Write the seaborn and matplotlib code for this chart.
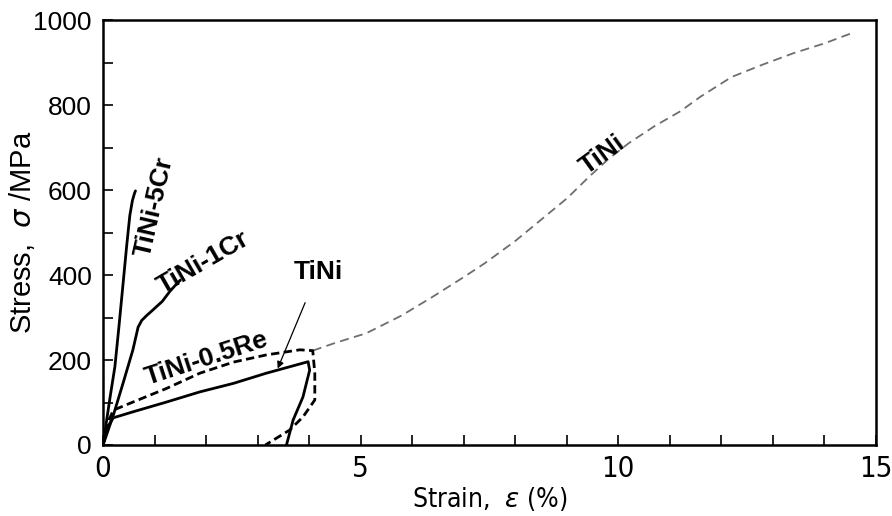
import matplotlib
matplotlib.use("Agg")
import matplotlib.pyplot as plt
from matplotlib.ticker import MultipleLocator
import seaborn as sns
import pandas as pd

# Tensile curves (strain in %, stress in MPa)
cr5_strain = [0, 0.06, 0.14, 0.23, 0.31, 0.39, 0.46, 0.52, 0.57, 0.61, 0.63]
cr5_stress = [0, 50, 115, 184, 280, 381, 470, 540, 575, 592, 598]

cr1_strain = [0, 0.1, 0.2, 0.39, 0.58, 0.68, 0.75, 0.85, 0.97, 1.15, 1.3, 1.42, 1.5]
cr1_stress = [0, 35, 70, 146, 224, 277, 293, 305, 318, 338, 362, 378, 388]

# TiNi loading / unloading loop
tini_strain = [0, 0.1, 0.2, 0.58, 1.23, 1.88, 2.53, 3.17, 3.98, 4.01, 3.88, 3.69, 3.56]
tini_stress = [0, 45, 64, 78, 101, 125, 145, 169, 196, 176, 113, 59, 0]

# TiNi-0.5Re loading / unloading loop
re_strain = [0, 0.1, 0.2, 0.58, 1.23, 1.88, 2.53, 3.17, 3.82, 4.07, 4.11, 4.11, 3.88, 3.62, 3.15]
re_stress = [0, 55, 82, 101, 133, 169, 195, 212, 224, 222, 169, 106, 66, 35, 0]

# TiNi loaded to fracture
tini_long_strain = [4.07, 4.5, 5.11, 5.8, 6.4, 7.0, 7.4, 8.0, 8.5, 9.0, 9.44, 9.8, 10.2,
                    10.7, 11.2, 11.6, 12.2, 12.8, 13.4, 14.0, 14.55]
tini_long_stress = [222, 240, 263, 305, 349, 395, 427, 480, 530, 580, 632, 672, 710,
                    750, 785, 820, 866, 895, 922, 945, 970]

x_ticks = [0, 5, 10, 15]
y_ticks = [0, 200, 400, 600, 800, 1000]

sns.set_style("ticks")
plt.rcParams["font.family"] = ["Liberation Sans", "DejaVu Sans"]
plt.rcParams["text.color"] = "black"
plt.rcParams["axes.labelcolor"] = "black"
plt.rcParams["xtick.color"] = "black"
plt.rcParams["ytick.color"] = "black"

fig = plt.figure(figsize=(8.92, 5.16), dpi=100)
ax = fig.add_axes([0.1155, 0.1376, 0.8665, 0.8236])


def curve(xs, ys, **kw):
    df = pd.DataFrame({"strain": xs, "stress": ys})
    sns.lineplot(data=df, x="strain", y="stress", sort=False, estimator=None,
                 ax=ax, legend=False, **kw)


curve(tini_long_strain, tini_long_stress, color="#6e6e6e", linewidth=1.3,
      dashes=False, linestyle=(0, (5, 3)))
curve(cr5_strain, cr5_stress, color="black", linewidth=2.0)
curve(cr1_strain, cr1_stress, color="black", linewidth=2.0)
curve(tini_strain, tini_stress, color="black", linewidth=2.0)
curve(re_strain, re_stress, color="black", linewidth=2.0, linestyle=(0, (3, 1.6)))

label_kw = dict(fontsize=19, fontweight="bold", color="black", ha="center", va="center")
ax.text(1.0, 560, "TiNi-5Cr", rotation=77, **label_kw)
ax.text(1.95, 430, "TiNi-1Cr", rotation=30, **label_kw)
ax.text(2.0, 203, "TiNi-0.5Re", rotation=18, **label_kw)
ax.text(9.69, 682, "TiNi", rotation=36, **label_kw)
ax.annotate("TiNi", xy=(3.39, 180), xytext=(4.17, 407),
            arrowprops=dict(arrowstyle="-|>", color="black", lw=0.9,
                            mutation_scale=10, shrinkA=12, shrinkB=0),
            **label_kw)

ax.set_xlim(0, 15)
ax.set_ylim(0, 1000)
ax.set_xticks(x_ticks)
ax.set_yticks(y_ticks)
ax.xaxis.set_minor_locator(MultipleLocator(1))
ax.yaxis.set_minor_locator(MultipleLocator(100))
ax.tick_params(which="both", direction="in", length=7, width=1.2,
               top=False, right=False, color="black")
ax.tick_params(axis="y", labelsize=19, pad=8)
ax.tick_params(axis="x", labelsize=21, pad=7)
for lab in ax.get_xticklabels():
    lab.set_family(["DejaVu Sans"])
    lab.set_fontstretch("condensed")

for side in ["top", "bottom", "left", "right"]:
    ax.spines[side].set_visible(True)
    ax.spines[side].set_linewidth(1.8)
    ax.spines[side].set_color("black")

ax.set_xlabel("Strain,  $\\mathit{\\varepsilon}$ (%)", fontsize=19,
              family=["DejaVu Sans"], fontstretch="condensed")
ax.set_ylabel("Stress,  $\\mathit{\\sigma}$ /MPa", fontsize=21)
ax.xaxis.set_label_coords(0.5, -0.095)
ax.yaxis.set_label_coords(-0.085, 0.5)

fig.savefig("out.png", dpi=100, facecolor="white")
